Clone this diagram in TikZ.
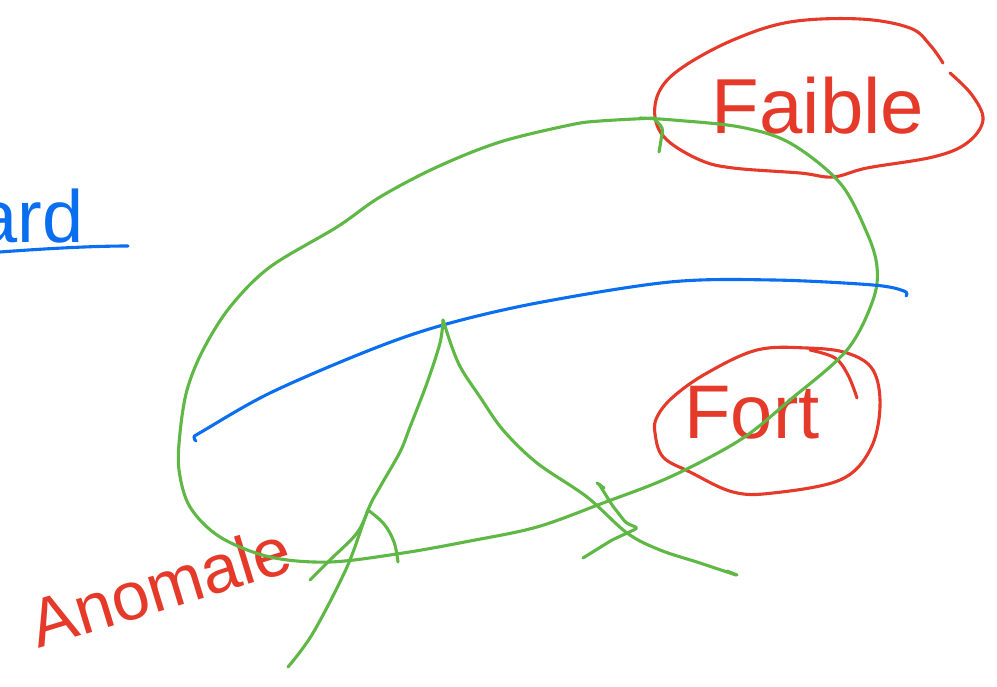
\documentclass[tikz,border=0pt]{standalone}
\usepackage{fontspec}
\setmainfont{Liberation Sans}
\definecolor{inkred}{HTML}{E53A2A}
\definecolor{inkgreen}{HTML}{5FB846}
\definecolor{inkblue}{HTML}{0A6EF0}
\tikzset{
  pen/.style={line width=3.1pt, line cap=round, line join=round},
  greenpen/.style={pen, draw=inkgreen},
  redpen/.style={pen, draw=inkred},
  bluepen/.style={pen, draw=inkblue},
  bigword/.style={inner sep=0pt, font=\fontsize{#1}{#1}\selectfont},
}
\begin{document}
\begin{tikzpicture}[x=1pt,y=-1pt]
\useasboundingbox (0,0) rectangle (997,687);

% ---- blue partial word and underline (top left) ----
\node[bigword=74, text=inkblue, anchor=base east] (ard) at (84,243) {ard};
\draw[bluepen] (0,252) .. controls (40,249) and (90,246) .. (128,246);

% ---- red blob around "Faible" ----
\draw[redpen] plot[smooth, tension=0.6] coordinates {
  (950,73) (972,95) (983,120) (967,143) (933,157) (867,168) (833,177)
  (800,173) (733,168) (700,160) (667,140) (655,117) (660,90) (683,67)
  (733,40) (790,22) (860,19) (910,28) (930,45) (943,63)};
\node[bigword=78, text=inkred] (faible) at (818,106) {Faible};

% ---- red blob around "Fort" ----
\draw[redpen] plot[smooth cycle, tension=0.6] coordinates {
  (655,433) (663,457) (690,472) (733,492) (773,493) (840,480) (870,450)
  (880,407) (873,370) (847,353) (807,348) (757,350) (707,373) (673,397)
  (657,417)};
\draw[redpen] plot[smooth, tension=0.6] coordinates {
  (857,398) (848,375) (835,358) (810,350)};
\node[bigword=76, text=inkred] (fort) at (752,413) {Fort};

% ---- red "Anomale" ----
\node[bigword=68, text=inkred, rotate=17] (anomale) at (160,586) {Anomale};

% ---- big green loop ----
\draw[greenpen] plot[smooth, tension=0.55] coordinates {
  (655,118) (600,121) (570,125) (500,142) (437,167) (380,197) (337,227)
  (270,267) (230,307) (203,350) (187,390) (180,433) (179,470) (190,507)
  (220,537) (270,557) (330,562) (403,553) (470,541) (537,527) (603,503)
  (670,477) (740,440) (790,400) (847,350) (873,300) (877,267) (867,233)
  (840,183) (790,143) (740,127) (673,120) (640,118)};
\draw[greenpen] plot[smooth, tension=0.6] coordinates {
  (653,118) (662,128) (661,140) (659,152)};

% ---- blue curve ----
\draw[bluepen] plot[smooth, tension=0.55] coordinates {
  (196,441) (194,437) (203,431) (270,393) (370,350) (443,325) (537,303)
  (670,282) (773,280) (873,285) (904,291) (906,296)};

% ---- green inverted V and strokes ----
\coordinate (apex) at (443,320);
\coordinate (knot) at (368,510);
\draw[greenpen] plot[smooth, tension=0.55] coordinates {
  (443,320) (440,343) (427,383) (410,427) (400,452) (380,487) (368,510)
  (347,567) (313,633) (288,667)};
\draw[greenpen] plot[smooth, tension=0.55] coordinates {
  (443,320) (453,350) (462,370) (480,397) (503,430) (537,463) (587,497)
  (627,533) (660,550) (700,563) (736,575)};
\draw[greenpen] (727,571) -- (737,575);
\draw[greenpen] plot[smooth, tension=0.6] coordinates {
  (knot) (357,533) (330,560) (310,580)};
\draw[greenpen] plot[smooth, tension=0.6] coordinates {
  (knot) (384,524) (394,542) (398,562)};

% ---- green zigzag arrow ----
\draw[greenpen, rounded corners=3pt] (583,558) -- (612,540) -- (638,528)
  -- (626,523) -- (612,505) -- (599,484);
\draw[greenpen] (597,483) -- (604,488);
\end{tikzpicture}
\end{document}
